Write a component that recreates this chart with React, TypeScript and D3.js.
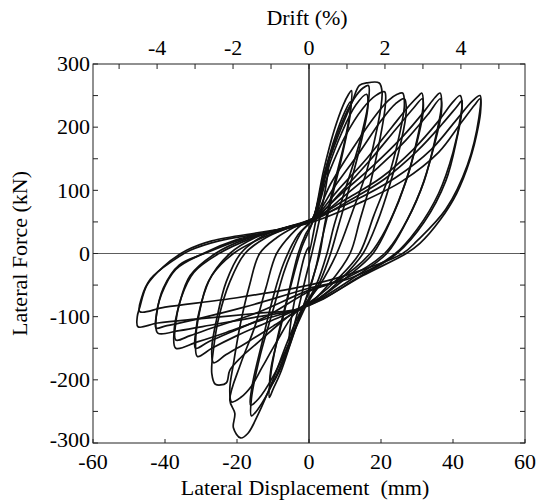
import React from "react";
import * as d3 from "d3";

// Lateral displacement (mm) / lateral force (kN) key points of each hysteresis loop
const loop05: [number, number][] = [[0,0],[2.5,70],[4.5,125],[5.5,150],[5.2,125],[3.5,70],[1,5],[-1,-40],[-3.5,-100],[-5.5,-140],[-5.2,-115],[-3.5,-60],[-1,0],[0,10]];
const loop10a: [number, number][] = [[1,50],[4,130],[7,195],[9.5,235],[11,252],[11.8,258],[11.7,235],[10,180],[7,110],[4.5,50],[3,0],[1,-40],[-2,-90],[-5,-140],[-8,-190],[-10,-215],[-11,-228],[-10.8,-200],[-9,-140],[-6,-70],[-3,0],[-1,30]];
const loop10b: [number, number][] = [[1,50],[4,120],[7,180],[10,225],[11.5,240],[11.3,215],[9,150],[6,80],[3.5,20],[2,-20],[0,-60],[-3,-105],[-6,-155],[-9,-195],[-10.8,-210],[-10.5,-180],[-8,-120],[-5,-50],[-2,10]];
const loop15a: [number, number][] = [[1,55],[5,140],[9,205],[12.5,245],[15,262],[16.5,266],[16.5,240],[14,175],[10,100],[7,45],[5,0],[2,-50],[-2,-92],[-6,-150],[-10,-205],[-14,-245],[-16,-257],[-16,-230],[-13.5,-160],[-10,-90],[-7,-30],[-5,0],[-2,35]];
const loop15b: [number, number][] = [[1,55],[5,130],[9,190],[13,235],[16,252],[16.3,230],[14,165],[11,100],[8,40],[6,0],[3,-45],[-1,-85],[-5,-135],[-10,-195],[-14,-230],[-16.2,-240],[-15.8,-210],[-13,-140],[-10,-70],[-7,-15],[-3,30]];
const loop20a: [number, number][] = [[1,55],[4,120],[8,185],[12,240],[14,266],[16,270],[19.5,270],[20.3,255],[19,200],[16,130],[12,65],[7.7,0],[3,-50],[-2,-88],[-6,-140],[-10,-200],[-14,-253],[-17,-285],[-19,-292],[-21,-276],[-20.6,-253],[-22,-232],[-19,-175],[-15,-115],[-12,-55],[-9,0],[-5,30],[-1,50]];
const loop20b: [number, number][] = [[1,55],[5,120],[10,185],[15,230],[18.5,250],[21,256],[21.2,235],[19.5,175],[17,110],[14,50],[11.4,0],[6,-45],[0,-80],[-4,-95],[-9,-140],[-13,-180],[-16,-210],[-19,-228],[-21.5,-235],[-22,-215],[-21,-175],[-19,-110],[-16.5,-50],[-13.7,0],[-9,25],[-4,42]];
const loop25a: [number, number][] = [[1,55],[6,110],[12,165],[18,215],[22,242],[24.5,252],[26,254],[26.5,235],[25,185],[22,120],[18,60],[14,0],[8,-40],[2,-70],[-3,-88],[-8,-110],[-14,-140],[-19,-165],[-22,-185],[-23,-205],[-26,-207],[-27,-190],[-26.5,-150],[-25,-100],[-22,-45],[-17.8,0],[-12,25],[-5,42]];
const loop25b: [number, number][] = [[1,55],[7,105],[14,160],[20,210],[24,237],[26.5,245],[27,225],[25.5,175],[22.5,110],[19,50],[15,0],[9,-40],[3,-70],[-3,-90],[-10,-115],[-17,-140],[-23,-160],[-26.5,-173],[-27,-150],[-25.5,-100],[-23,-45],[-19,0],[-13,27],[-6,42]];
const loop30a: [number, number][] = [[1,55],[8,100],[16,150],[23,200],[28,235],[30.5,250],[31.3,254],[31.7,235],[30,180],[27,115],[22.5,50],[17.8,0],[10,-40],[3,-70],[-3,-88],[-12,-110],[-20,-130],[-27,-150],[-31,-163],[-31.5,-140],[-30.5,-95],[-28,-45],[-22,0],[-15,25],[-7,40]];
const loop30b: [number, number][] = [[1,52],[9,98],[17,148],[24,196],[29,230],[31.5,245],[31.7,225],[29.5,165],[26,100],[21.5,40],[17,0],[8,-42],[0,-60],[-12,-100],[-22,-125],[-28,-140],[-31.5,-150],[-31.5,-125],[-30,-80],[-27,-35],[-21,0],[-13,25],[-5,42]];
const loop35a: [number, number][] = [[1,55],[9,95],[18,140],[26,185],[32,225],[35,247],[36.4,254],[36.8,235],[35,180],[32,115],[27,50],[21.6,0],[12,-40],[3,-72],[-3,-88],[-13,-105],[-23,-125],[-31,-140],[-37,-150],[-37.5,-125],[-36,-80],[-33,-35],[-26,0],[-18,22],[-8,38]];
const loop35b: [number, number][] = [[1,52],[10,92],[19,135],[27,180],[33,220],[36.5,245],[36.8,225],[34.5,165],[31,100],[26,40],[21,0],[10,-40],[0,-58],[-15,-95],[-27,-118],[-33,-130],[-37,-137],[-37,-110],[-35.5,-70],[-32,-30],[-25,0],[-16,24],[-7,40]];
const loop40a: [number, number][] = [[1,55],[10,85],[20,120],[29,165],[36,210],[40,240],[42,250],[42.5,230],[41,180],[38,115],[32,50],[24.4,0],[13,-40],[4,-72],[-3,-88],[-14,-100],[-26,-112],[-36,-122],[-42,-126],[-42.5,-105],[-41,-65],[-37,-25],[-29.4,0],[-20,22],[-10,36]];
const loop40b: [number, number][] = [[1,52],[11,83],[21,118],[30,162],[37,205],[41,232],[42.5,242],[42.2,220],[40,160],[36,95],[30,38],[24,0],[12,-38],[0,-55],[-18,-85],[-32,-105],[-40,-115],[-42.5,-118],[-42.3,-95],[-40.5,-55],[-36,-18],[-29,0],[-19,22],[-9,37]];
const loop45a: [number, number][] = [[1,55],[12,82],[24,120],[34,165],[41,212],[45.5,242],[47.5,250],[47.7,228],[47,200],[44.7,148],[41,95],[36.4,53],[30.8,16],[27,0],[15,-35],[5,-68],[-3,-88],[-15,-95],[-30,-103],[-42,-110],[-47.5,-116],[-47.7,-100],[-47,-85],[-45,-50],[-40.5,-21],[-34,5],[-27,20],[-13,34],[-5,42]];
const loop45b: [number, number][] = [[1,50],[14,80],[26,115],[36,160],[42,205],[46,235],[47.5,245],[47.2,215],[44,140],[38,70],[30,20],[26,0],[10,-35],[0,-50],[-20,-70],[-40,-85],[-47,-92],[-46.5,-70],[-44,-40],[-38,-12],[-33,5],[-25,20],[-12,33]];

const loops = [loop05, loop10a, loop10b, loop15a, loop15b, loop20a, loop20b, loop25a, loop25b, loop30a, loop30b, loop35a, loop35b, loop40a, loop40b, loop45a, loop45b];

const dispTicks = [-60, -40, -20, 0, 20, 40, 60];
const forceTicks = [-300, -200, -100, 0, 100, 200, 300];
const forceMinorTicks = [-250, -150, -50, 50, 150, 250];
const driftTicks = [-5, -4, -3, -2, -1, 0, 1, 2, 3, 4, 5];
const driftLabels = [-4, -2, 0, 2, 4];
const columnHeight = 1055; // mm, drift = displacement / height

const W = 544, H = 501;
const L = 93, R = 525, T = 64, B = 443;
const font = "Liberation Serif, Times New Roman, Times, serif";
const fs = 22;

export default function App() {
  const x = d3.scaleLinear().domain([-60, 60]).range([L, R]);
  const y = d3.scaleLinear().domain([-300, 300]).range([B, T]);
  const xd = d3.scaleLinear().domain([-6000 / columnHeight, 6000 / columnHeight]).range([L, R]);
  const line = d3.line<[number, number]>().x(d => x(d[0])).y(d => y(d[1])).curve(d3.curveCatmullRomClosed.alpha(0.5));
  const tk = 5;
  const ts = { fontFamily: font, fontSize: fs };
  return (
    <svg width={W} height={H} style={{ position: "absolute", left: 0, top: 0, background: "#fff" }}>
      <rect x={0} y={0} width={W} height={H} fill="#fff" />
      {/* zero lines */}
      <line x1={L} x2={R} y1={y(0)} y2={y(0)} stroke="#333" strokeWidth={0.8} />
      <line x1={x(0)} x2={x(0)} y1={T} y2={B} stroke="#000" strokeWidth={1.3} />
      {/* loops */}
      <g fill="none" stroke="#111" strokeWidth={1.7} strokeLinejoin="round">
        {loops.map((lp, i) => <path key={i} d={line(lp) || ""} />)}
      </g>
      {/* frame */}
      <rect x={L} y={T} width={R - L} height={B - T} fill="none" stroke="#222" strokeWidth={1} />
      {/* left & right ticks */}
      {[...forceTicks, ...forceMinorTicks].map(v => (
        <g key={"f" + v}>
          <line x1={L} x2={L + tk} y1={y(v)} y2={y(v)} stroke="#222" />
          <line x1={R} x2={R - tk} y1={y(v)} y2={y(v)} stroke="#222" />
        </g>
      ))}
      {forceTicks.map(v => (
        <text key={"fl" + v} x={L - 3} y={y(v)} dy={v === -300 ? "0.2em" : "0.33em"} textAnchor="end" style={ts}>{v}</text>
      ))}
      {/* bottom ticks */}
      {dispTicks.map(v => (
        <g key={"d" + v}>
          <line x1={x(v)} x2={x(v)} y1={B} y2={B - 4} stroke="#222" />
          <text x={x(v)} y={B + 26} textAnchor="middle" style={ts}>{v}</text>
        </g>
      ))}
      {/* top drift ticks */}
      {driftTicks.map(v => (
        <line key={"dt" + v} x1={xd(v)} x2={xd(v)} y1={T} y2={T + tk} stroke="#222" />
      ))}
      {driftLabels.map(v => (
        <text key={"dl" + v} x={xd(v)} y={T - 9} textAnchor="middle" style={ts}>{v}</text>
      ))}
      <text x={(L + R) / 2 - 2} y={25} textAnchor="middle" style={ts}>Drift (%)</text>
      <text x={(L + R) / 2 - 4} y={495} textAnchor="middle" style={{ ...ts, whiteSpace: "pre" }}>Lateral Displacement  (mm)</text>
      <text transform={`translate(27,${(T + B) / 2}) rotate(-90)`} textAnchor="middle" style={ts}>Lateral Force (kN)</text>
    </svg>
  );
}
